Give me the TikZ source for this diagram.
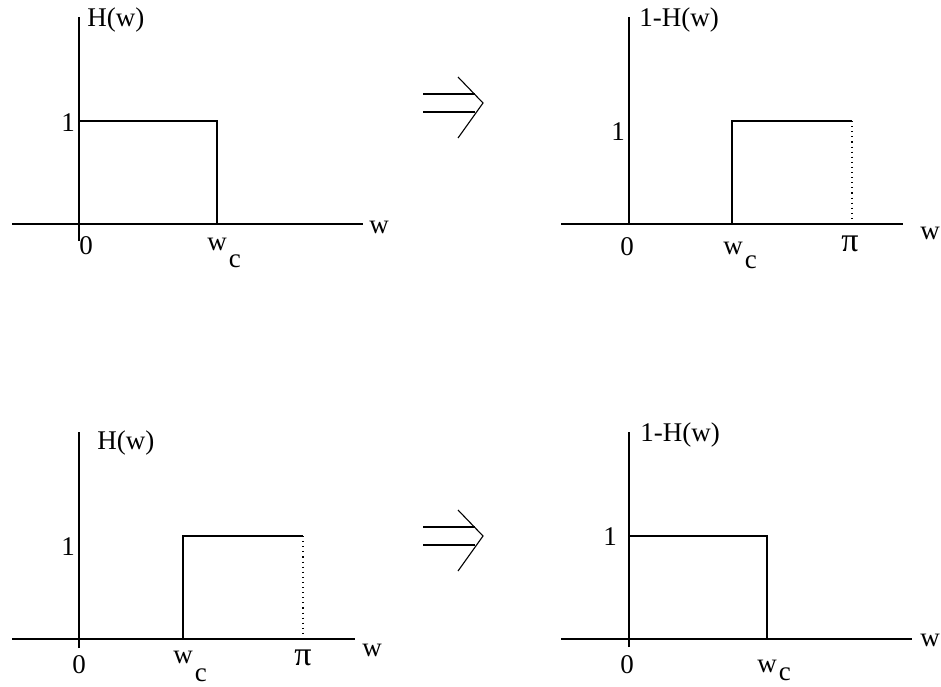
\documentclass[tikz,border=0pt]{standalone}
\usepackage{fontspec}
\setmainfont{Liberation Serif}
\usetikzlibrary{positioning}
\tikzset{ax/.style={line width=.55pt},sig/.style={line width=.55pt},
 guide/.style={line width=.55pt,dotted},
 lbl/.style={inner sep=0pt,font=\fontsize{13.5}{15}\selectfont},
 pilbl/.style={inner sep=0pt,font=\fontsize{17}{19}\selectfont}}
\newcommand{\wsub}[1][.63em]{w\rlap{\kern1pt\smash{\raisebox{-#1}{c}}}}

\begin{document}
\begin{tikzpicture}[x=.5pt,y=-.5pt]
\useasboundingbox (0,0) rectangle (941,686);
% top left: H(w), low-pass
\draw[ax](12,224)--(363,224);\draw[ax](79,241)--(79,17);
\draw[sig](79,121)--(217,121)--(217,224);
\node[lbl,anchor=west](h1) at (87,20){H(w)};
\node[lbl](one1) at (68,123){1};\node[lbl](zero1) at (86,246){0};
\node[lbl](wc1) at (217,244){\wsub};\node[lbl](w1) at (379,227){w};
% top right: 1-H(w), high-pass
\draw[ax](561,224)--(903,224);\draw[ax](629,224)--(629,17);
\draw[sig](732,224)--(732,121)--(852,121);\draw[guide](852,121)--(852,224);
\node[lbl,anchor=west](g1) at (639,20){1-H(w)};
\node[lbl](one2) at (618,132){1};\node[lbl](zero2) at (627,247){0};
\node[lbl](wc2) at (733,248){\wsub[.52em]};\node[pilbl](pi2) at (850,244){π};
\node[lbl](w2) at (930,233){w};
% bottom left: H(w), high-pass
\draw[ax](12,639)--(355,639);\draw[ax](79,648)--(79,432);
\draw[sig](183,639)--(183,536)--(303,536);\draw[guide](303,536)--(303,639);
\node[lbl,anchor=west](h3) at (97,443){H(w)};
\node[lbl](one3) at (68,547){1};\node[lbl](zero3) at (79,665){0};
\node[lbl](wc3) at (183,657){\wsub[.67em]};\node[pilbl](pi3) at (303,658){π};
\node[lbl](w3) at (372,650){w};
% bottom right: 1-H(w), low-pass
\draw[ax](561,639)--(912,639);\draw[ax](629,647)--(629,432);
\draw[sig](629,536)--(767,536)--(767,639);
\node[lbl,anchor=west](g4) at (640,435){1-H(w)};
\node[lbl](one4) at (610,537){1};\node[lbl](zero4) at (627,665){0};
\node[lbl](wc4) at (767,666){\wsub[.3em]};\node[lbl](w4) at (930,640){w};
% implies arrows
\foreach \dy/\n in {0/1,433/2}{
 \coordinate (tip\n) at (483,103+\dy);
 \coordinate (hu\n) at (458,77+\dy);\coordinate (hd\n) at (458,138+\dy);
 \draw[sig](hu\n)--(tip\n)--(hd\n);
 \draw[sig](423,94+\dy)--(475,94+\dy);\draw[sig](423,112+\dy)--(475,112+\dy);}
\end{tikzpicture}
\end{document}
